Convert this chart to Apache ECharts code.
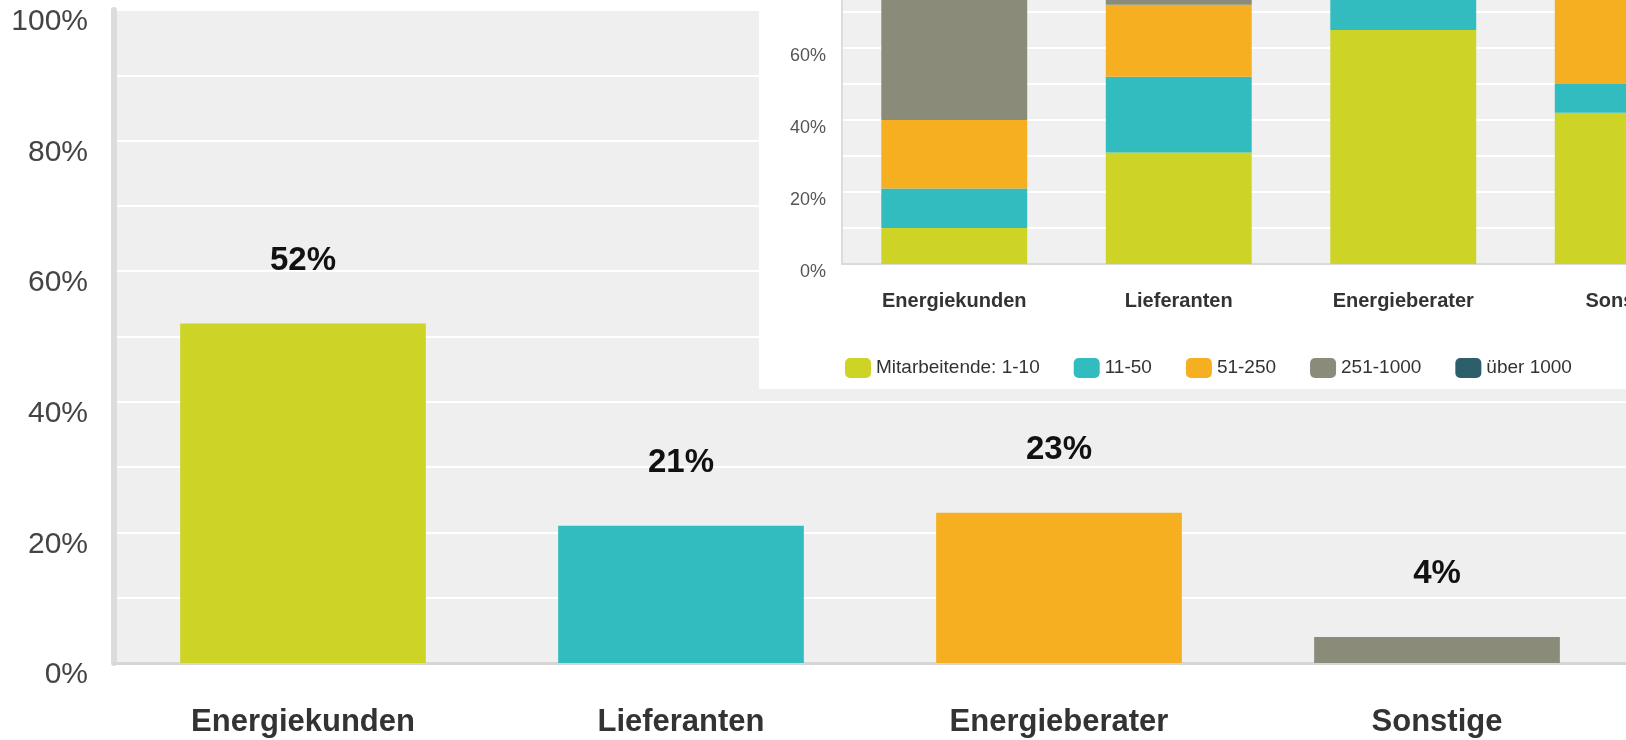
<!DOCTYPE html>
<html>
<head>
<meta charset="utf-8">
<script src="https://cdn.jsdelivr.net/npm/echarts@6/dist/echarts.min.js"></script>
<style>
  html, body { margin: 0; padding: 0; background: #fff; }
  #chart { width: 1626px; height: 740px; }
</style>
</head>
<body>
<div id="chart"></div>
<script>
// categories shared by both charts
const categories = ['Energiekunden', 'Lieferanten', 'Energieberater', 'Sonstige'];
// main chart: share of respondents
const shareValues = [52, 21, 23, 4];
const shareColors = ['#ced426', '#33bcbf', '#f6af20', '#8b8b7a'];
// inset: company size per group (stacked, %)
const sizeClasses = ['Mitarbeitende: 1-10', '11-50', '51-250', '251-1000', 'über 1000'];
const size1to10 = [10, 31, 65, 42];
const size11to50 = [11, 21, 15, 8];
const size51to250 = [19, 20, 12, 34];
const size251to1000 = [40, 18, 6, 10];
const sizeOver1000 = [20, 10, 2, 6];
const sizeColors = ['#ced426', '#33bcbf', '#f6af20', '#8b8b7a', '#2d5f6b'];

const font = 'Liberation Sans, Arial, sans-serif';
const sizeData = [size1to10, size11to50, size51to250, size251to1000, sizeOver1000];

let insetSeries = [];
for (let i = 0; i < sizeClasses.length; i++) {
  insetSeries.push({
    name: sizeClasses[i],
    type: 'bar',
    stack: 'size',
    xAxisIndex: 1,
    yAxisIndex: 1,
    zlevel: 1,
    z: 7,
    barCategoryGap: '35%',
    itemStyle: { color: sizeColors[i] },
    data: sizeData[i],
    animation: false
  });
}

let option = {
  animation: false,
  textStyle: { fontFamily: font },
  graphic: {
    elements: [{
      type: 'rect',
      zlevel: 1,
      z: 1,
      shape: { x: 759, y: -10, width: 880, height: 399 },
      style: { fill: '#ffffff' }
    }]
  },
  legend: {
    zlevel: 1,
    z: 8,
    left: 840,
    top: 353,
    icon: 'roundRect',
    itemWidth: 26,
    itemHeight: 20,
    itemGap: 34,
    textStyle: { fontSize: 19, color: '#333', fontFamily: font },
    data: sizeClasses
  },
  grid: [
    {
      left: 114, right: 0, top: 10, bottom: 77,
      outerBoundsMode: 'none',
      show: true, backgroundColor: '#efefef', borderWidth: 0
    },
    {
      left: 842, width: 898, top: -96, bottom: 476,
      outerBoundsMode: 'none',
      show: true, backgroundColor: '#f0f0f0', borderWidth: 0,
      zlevel: 1, z: 5
    }
  ],
  xAxis: [
    {
      type: 'category',
      gridIndex: 0,
      data: categories,
      axisTick: { show: false },
      axisLine: { show: true, lineStyle: { color: '#d6d6d6', width: 3 } },
      axisLabel: { margin: 44, fontSize: 31, fontWeight: 'bold', color: '#333', fontFamily: font }
    },
    {
      type: 'category',
      gridIndex: 1,
      zlevel: 1, z: 6,
      data: categories,
      axisTick: { show: false },
      axisLine: { show: true, lineStyle: { color: '#dadada', width: 2 } },
      axisLabel: { margin: 27, fontSize: 20, fontWeight: 'bold', color: '#333', fontFamily: font }
    }
  ],
  yAxis: [
    {
      type: 'value',
      gridIndex: 0,
      min: 0, max: 100, interval: 10,
      axisLine: { show: true, lineStyle: { color: '#dcdcdc', width: 6 } },
      axisTick: { show: false },
      splitLine: { show: true, lineStyle: { color: '#ffffff', width: 2 } },
      axisLabel: {
        margin: 26,
        fontSize: 30,
        color: '#444',
        fontFamily: font,
        verticalAlign: 'top',
        lineHeight: 24,
        formatter: function (v) { return v % 20 === 0 ? v + '%' : ''; }
      }
    },
    {
      type: 'value',
      gridIndex: 1,
      zlevel: 1, z: 6,
      min: 0, max: 100, interval: 10,
      axisLine: { show: true, lineStyle: { color: '#dcdcdc', width: 2 } },
      axisTick: { show: false },
      splitLine: { show: true, lineStyle: { color: '#ffffff', width: 2 } },
      axisLabel: {
        margin: 16,
        fontSize: 18,
        color: '#555',
        fontFamily: font,
        verticalAlign: 'top',
        lineHeight: 17,
        formatter: function (v) { return v % 20 === 0 ? v + '%' : ''; }
      }
    }
  ],
  series: [
    {
      type: 'bar',
      xAxisIndex: 0,
      yAxisIndex: 0,
      barCategoryGap: '35%',
      data: shareValues.map(function (v, i) {
        return { value: v, itemStyle: { color: shareColors[i] } };
      }),
      label: {
        show: true,
        position: 'top',
        distance: 46,
        fontSize: 33,
        fontWeight: 'bold',
        color: '#111',
        fontFamily: font,
        formatter: '{c}%'
      },
      animation: false
    },
    ...insetSeries
  ]
};

const chart = echarts.init(document.getElementById('chart'));
chart.setOption(option);
window.addEventListener('resize', function () {
  chart.resize();
});
</script>
</body>
</html>
